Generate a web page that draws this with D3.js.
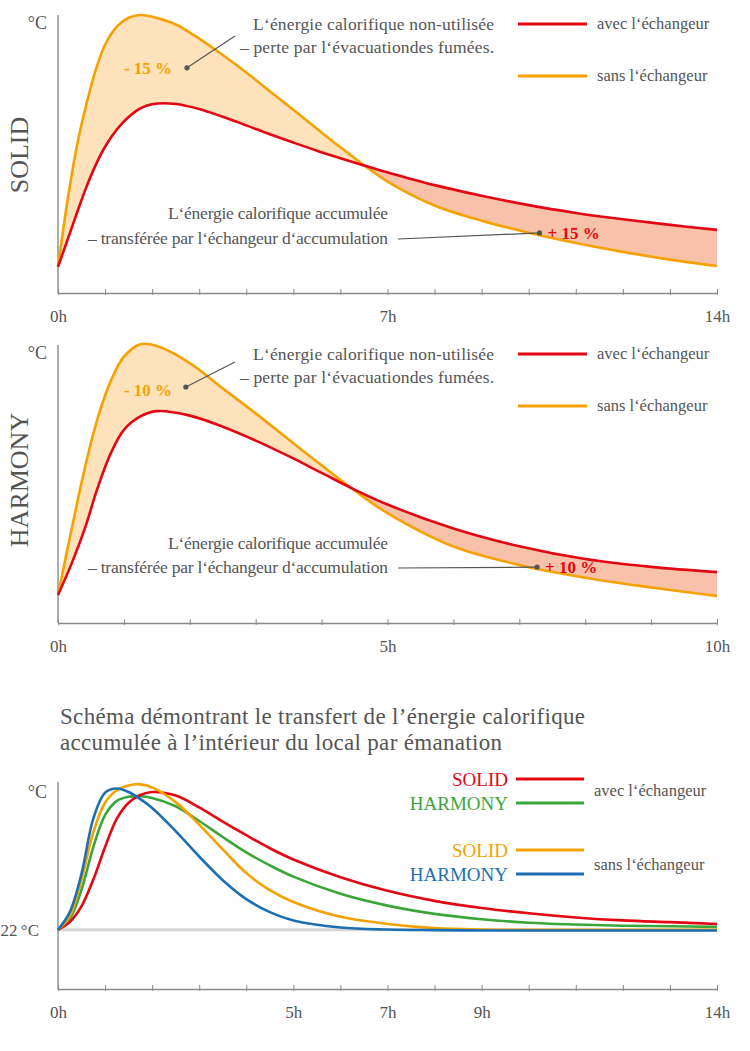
<!DOCTYPE html>
<html><head><meta charset="utf-8">
<script src="https://cdn.jsdelivr.net/npm/d3@7"></script>
<style>
body{margin:0;background:#fff}
</style>
</head><body>
<svg id="c" width="750" height="1051" font-family="'Liberation Serif', 'DejaVu Serif', serif"></svg>
<script>
// ---------- DATA ----------
// Panel 1: SOLID (hours 0..14), relative temperature 0..100
const solidHours = [0,0.2,0.4,0.6,0.8,1,1.25,1.5,1.75,2,2.5,3,3.5,4,4.5,5,5.5,6,6.5,7,8,9,10,11,12,13,14];
const solidAvec  = [9.4,19,28.7,38,46,52.6,58.8,63.3,66.4,67.9,68,66.2,63.4,60.3,57.1,54.1,51.2,48.5,45.9,43.4,38.8,35,31.6,28.8,26.5,24.5,22.7];
const solidSans  = [9.4,33,52.7,67.7,80.2,89.3,95.8,99,100,99.4,96.6,91.5,85.6,79.3,72.6,65.9,59.1,52.4,46,40.1,31.5,26,21.7,18,14.8,12,9.7];
const solidLabelHours = [0,7,14];

// Panel 2: HARMONY (hours 0..10)
const harmonyHours = [0,0.2,0.4,0.6,0.8,1,1.25,1.5,2,2.5,3,3.5,4,4.5,5,6,7,8,9,10];
const harmonyAvec  = [10.1,21,33.5,48.5,61,69.5,74.3,76.2,74.6,70.6,65.6,60,54,48,42.6,34,27.6,23,20.2,18.3];
const harmonySans  = [10.1,33,55,73.5,87,95.8,100.3,99.6,93.5,84.4,75.4,66,56.7,47.7,39.5,27.5,20.9,16.3,12.8,9.7];
const harmonyLabelHours = [0,5,10];

// Panel 3: emanation into the room (hours 0..14), °C
const emanHours = [0,0.25,0.5,0.75,1,1.25,1.5,1.75,2,2.5,3,3.5,4,4.5,5,6,7,8,9,10,11,12,13,14];
const emanSolidAvec   = [22,23.3,26,30.5,36,40.8,43.5,44.8,45.3,44.7,42.7,40.3,38,35.8,33.9,30.9,28.6,26.9,25.7,24.8,24.1,23.6,23.3,23];
const emanHarmonyAvec = [22,23.8,28.8,36,41.4,43.8,44.5,44.6,44.3,42.9,40.4,37.7,35.1,32.9,31,28.1,26.1,24.7,23.8,23.2,22.9,22.7,22.6,22.5];
const emanSolidSans   = [22,24.3,30.5,38.5,43.5,45.6,46.4,46.6,46.1,43.6,39.8,35.6,31.6,28.7,26.7,24.2,23,22.3,22.05,22,22,22,22,22];
const emanHarmonySans = [22,25,31.5,40.8,45.2,45.9,45.3,44.1,42.6,38.7,34.4,30.4,27.2,25,23.6,22.4,22.05,21.95,21.9,21.9,21.9,21.9,21.9,21.9];
const emanLabelHours = [0,5,7,9,14];
const baseTemp = 22;

// ---------- STYLE ----------
const RED="#e30613", ORANGE="#f5a200", GREEN="#3aa63a", BLUE="#1d6fb3";
const FILL_A="#fde2bb", FILL_B="#f8c2aa";
const TXT="#555", AX="#8a8a8a";
const FONT="'Liberation Serif', 'DejaVu Serif', serif";

const svg = d3.select("#c");
svg.append("rect").attr("width",750).attr("height",1051).attr("fill","#fff");
const CURVE = d3.curveCatmullRom.alpha(0.5);

function axisX(g, x, yPix, maxH, labelHours){
  const ax = d3.axisBottom(x).tickValues(d3.range(0,maxH+1)).tickSizeOuter(0)
     .tickFormat(d => labelHours.includes(d) ? d+"h" : "");
  const a = g.append("g").attr("transform",`translate(0,${yPix})`).call(ax);
  a.attr("font-family",FONT);
  a.select(".domain").attr("stroke",AX).attr("stroke-width",1.4);
  a.selectAll(".tick line").attr("stroke",AX).attr("stroke-width",1).attr("y1",2).attr("y2",-4);
  a.selectAll(".tick text").attr("fill",TXT).attr("font-size",17).attr("y",29).attr("dy",0)
     .attr("font-family",FONT);
}

function text(g, x, y, s, opt={}){
  const t = g.append("text").attr("x",x).attr("y",y).text(s)
    .attr("font-family",FONT)
    .attr("fill",opt.fill||TXT).attr("font-size",opt.size||17)
    .attr("text-anchor",opt.anchor||"start").attr("font-weight",opt.weight||"normal");
  if(opt.len) t.attr("textLength",opt.len).attr("lengthAdjust","spacing");
  return t;
}

let clipN=0;
function panel(cfg){
  const g = svg.append("g");
  const x = d3.scaleLinear().domain([0,cfg.maxH]).range([58,717]);
  const y = d3.scaleLinear().domain([0,100]).range([cfg.bottom,cfg.top]);
  const pts = (arr)=>cfg.hours.map((h,i)=>[h,arr[i]]);
  const avec=pts(cfg.avec), sans=pts(cfg.sans);
  const above = d3.area().x(d=>x(d[0])).y0(cfg.top-30).y1(d=>y(d[1])).curve(CURVE);
  const below = d3.area().x(d=>x(d[0])).y0(cfg.bottom).y1(d=>y(d[1])).curve(CURVE);
  const line = d3.line().x(d=>x(d[0])).y(d=>y(d[1])).curve(CURVE);
  const idR="c"+(clipN++), idO="c"+(clipN++);
  const defs=g.append("defs");
  defs.append("clipPath").attr("id",idR).append("path").attr("d",above(avec));
  defs.append("clipPath").attr("id",idO).append("path").attr("d",above(sans));
  g.append("path").attr("d",below(sans)).attr("fill",FILL_A).attr("clip-path",`url(#${idR})`);
  g.append("path").attr("d",below(avec)).attr("fill",FILL_B).attr("clip-path",`url(#${idO})`);
  // axes
  g.append("line").attr("x1",58).attr("x2",58).attr("y1",cfg.top).attr("y2",cfg.bottom).attr("stroke",AX).attr("stroke-width",1.4);
  axisX(g,x,cfg.bottom,cfg.maxH,cfg.labelHours);
  text(g,47,cfg.top+14,"°C",{anchor:"end",size:18});
  // curves
  g.append("path").attr("d",line(sans)).attr("fill","none").attr("stroke",ORANGE).attr("stroke-width",2.6);
  g.append("path").attr("d",line(avec)).attr("fill","none").attr("stroke",RED).attr("stroke-width",2.6);
  // panel name
  g.append("text").attr("transform",`translate(28,${cfg.nameY}) rotate(-90)`).attr("text-anchor","middle")
    .attr("font-family",FONT).attr("font-size",26).attr("fill",TXT).text(cfg.name);
  // legend
  const o=cfg.top;
  g.append("line").attr("x1",518).attr("x2",587).attr("y1",o+9).attr("y2",o+9).attr("stroke",RED).attr("stroke-width",3);
  text(g,597,o+14,"avec l‘échangeur",{size:16.5});
  g.append("line").attr("x1",518).attr("x2",587).attr("y1",o+61).attr("y2",o+61).attr("stroke",ORANGE).attr("stroke-width",3);
  text(g,597,o+66,"sans l‘échangeur",{size:16.5});
  // annotation 1
  text(g,494,o+cfg.a1y[0],"L‘énergie calorifique non-utilisée",{anchor:"end",size:17.5,len:241});
  text(g,494,o+cfg.a1y[1],"– perte par l‘évacuationdes fumées.",{anchor:"end",size:17.5,len:254});
  const d1=[x(cfg.dot1[0]),y(cfg.dot1[1])];
  g.append("line").attr("x1",d1[0]).attr("y1",d1[1]).attr("x2",235).attr("y2",o+cfg.lead1y).attr("stroke","#555").attr("stroke-width",1.2);
  g.append("circle").attr("cx",d1[0]).attr("cy",d1[1]).attr("r",2.6).attr("fill","#555");
  text(g,148,o+cfg.pct1y,cfg.pct1,{anchor:"middle",size:17,weight:"bold",fill:ORANGE});
  // annotation 2
  text(g,388,o+cfg.a2y[0],"L‘énergie calorifique accumulée",{anchor:"end",size:17.5,len:220});
  text(g,388,o+cfg.a2y[1],"– transférée par l‘échangeur d‘accumulation",{anchor:"end",size:17.5,len:300});
  const d2=[x(cfg.dot2[0]),y(cfg.dot2[1])];
  g.append("line").attr("x1",398).attr("y1",o+cfg.lead2y).attr("x2",d2[0]).attr("y2",d2[1]).attr("stroke","#555").attr("stroke-width",1.2);
  g.append("circle").attr("cx",d2[0]).attr("cy",d2[1]).attr("r",2.6).attr("fill","#555");
  text(g,d2[0]+8,d2[1]+6,cfg.pct2,{size:17,weight:"bold",fill:RED});
}

panel({top:15,bottom:293,maxH:14,hours:solidHours,avec:solidAvec,sans:solidSans,labelHours:solidLabelHours,
  name:"SOLID",nameY:155,a1y:[15,38],lead1y:21,dot1:[2.74,81],pct1:"- 15 %",pct1y:59,
  a2y:[204,229],lead2y:224,dot2:[10.23,21.6],pct2:"+ 15 %"});
panel({top:345,bottom:623,maxH:10,hours:harmonyHours,avec:harmonyAvec,sans:harmonySans,labelHours:harmonyLabelHours,
  name:"HARMONY",nameY:480,a1y:[15,38],lead1y:17,dot1:[1.94,84.9],pct1:"- 10 %",pct1y:51,
  a2y:[204,228],lead2y:223,dot2:[7.27,20.1],pct2:"+ 10 %"});

// ---------- Panel 3 ----------
(function(){
  const g=svg.append("g");
  text(g,60,724,"Schéma démontrant le transfert de l’énergie calorifique",{size:23,len:525});
  text(g,60,750,"accumulée à l’intérieur du local par émanation",{size:23,len:442});
  const top=782,bottom=989;
  const x=d3.scaleLinear().domain([0,14]).range([58,717]);
  const y=d3.scaleLinear().domain([12,47]).range([bottom,top]);
  g.append("line").attr("x1",x(0)).attr("x2",x(14)).attr("y1",y(baseTemp)).attr("y2",y(baseTemp)).attr("stroke","#d6d6d6").attr("stroke-width",3);
  g.append("line").attr("x1",58).attr("x2",58).attr("y1",top).attr("y2",bottom).attr("stroke",AX).attr("stroke-width",1.4);
  axisX(g,x,bottom,14,emanLabelHours);
  text(g,47,798,"°C",{anchor:"end",size:18});
  text(g,39,y(baseTemp)+6,baseTemp+"\u2009°C",{anchor:"end",size:17});
  const line=d3.line().x((d,i)=>x(emanHours[i])).y(d=>y(d)).curve(CURVE);
  [[emanHarmonyAvec,GREEN],[emanSolidAvec,RED],[emanSolidSans,ORANGE],[emanHarmonySans,BLUE]].forEach(([s,c])=>{
    g.append("path").attr("d",line(s)).attr("fill","none").attr("stroke",c).attr("stroke-width",2.6);
  });
  const leg=[["SOLID",RED,779],["HARMONY",GREEN,803],["SOLID",ORANGE,850],["HARMONY",BLUE,874]];
  leg.forEach(([n,c,yy])=>{
    g.append("line").attr("x1",516).attr("x2",584).attr("y1",yy).attr("y2",yy).attr("stroke",c).attr("stroke-width",3);
    text(g,508,yy+7,n,{anchor:"end",size:19,fill:c});
  });
  text(g,594,796,"avec l‘échangeur",{size:16.5});
  text(g,594,870,"sans l‘échangeur",{size:16.5});
})();
</script>
</body></html>
